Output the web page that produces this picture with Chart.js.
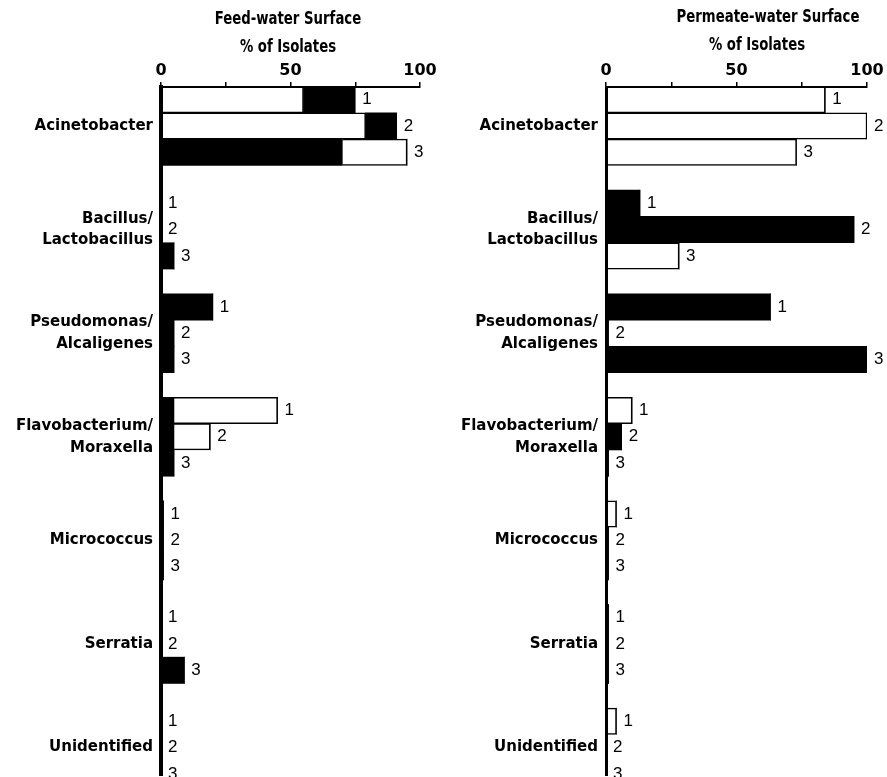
<!DOCTYPE html>
<html>
<head>
<meta charset="utf-8">
<script src="https://cdn.jsdelivr.net/npm/chart.js@4/dist/chart.umd.min.js"></script>
<style>
  body { margin: 0; background: #fff; }
  #wrap { position: relative; width: 887px; height: 777px; }
  .panel { position: absolute; top: 0; height: 777px; }
  .ttl { position: absolute; font-family: 'Liberation Sans Narrow', 'DejaVu Sans Condensed', sans-serif;
         font-weight: bold; font-size: 18px; color: #000; white-space: nowrap;
         transform: translateX(-50%) scaleX(0.82); }
</style>
</head>
<body>
<div id="wrap">
  <div class="panel" style="left:0;width:443px"><canvas id="feedCanvas"></canvas></div>
  <div class="panel" style="left:443px;width:444px"><canvas id="permCanvas"></canvas></div>
  <div class="ttl" style="left:288px;top:7px">Feed-water Surface</div>
  <div class="ttl" style="left:288px;top:35px">% of Isolates</div>
  <div class="ttl" style="left:768px;top:5px">Permeate-water Surface</div>
  <div class="ttl" style="left:757px;top:33px">% of Isolates</div>
</div>
<script>
// categories (top to bottom)
var categories = [
    'Acinetobacter',
    ['Bacillus/', 'Lactobacillus'],
    ['Pseudomonas/', 'Alcaligenes'],
    ['Flavobacterium/', 'Moraxella'],
    'Micrococcus',
    'Serratia',
    'Unidentified'
];
var barNames = ['1', '2', '3'];
var xTicks = [0, 50, 100];

// each bar = black part next to the axis + white part + black part at the end
// rows: bar 1, bar 2, bar 3; columns: categories
var feedDarkInner = [
    [0, 0, 20, 5, 1, 0, 0],
    [0, 0, 5, 5, 1, 0, 0],
    [70, 5, 5, 5, 1, 9, 0]
];
var feedLight = [
    [55, 0, 0, 40, 0, 0, 0],
    [79, 0, 0, 14, 0, 0, 0],
    [25, 0, 0, 0, 0, 0, 0]
];
var feedDarkOuter = [
    [20, 0, 0, 0, 0, 0, 0],
    [12, 0, 0, 0, 0, 0, 0],
    [0, 0, 0, 0, 0, 0, 0]
];

var permDarkInner = [
    [0, 13, 63, 0, 0, 1, 0],
    [0, 95, 0, 6, 1, 1, 0],
    [0, 0, 100, 1, 1, 1, 0]
];
var permLight = [
    [84, 0, 0, 10, 4, 0, 4],
    [100, 0, 1, 0, 0, 0, 0],
    [73, 28, 0, 0, 0, 0, 0]
];
var permDarkOuter = [
    [0, 0, 0, 0, 0, 0, 0],
    [0, 0, 0, 0, 0, 0, 0],
    [0, 0, 0, 0, 0, 0, 0]
];

var barLabels = {
    id: 'barLabels',
    afterDatasetsDraw: function(chart) {
        var ctx = chart.ctx;
        ctx.save();
        ctx.font = '17px "Liberation Sans", sans-serif';
        ctx.fillStyle = '#000';
        ctx.textAlign = 'left';
        ctx.textBaseline = 'middle';
        for (var s = 0; s < 3; s++) {
            var meta = chart.getDatasetMeta(s * 3 + 2);
            meta.data.forEach(function(el) {
                ctx.fillText(barNames[s], el.x + 7, el.y);
            });
        }
        ctx.restore();
    }
};

function makeChart(id, darkInner, light, darkOuter, yWidth, padRight, axisWidth) {
    var datasets = [];
    for (var s = 0; s < 3; s++) {
        var parts = [darkInner[s], light[s], darkOuter[s]];
        for (var p = 0; p < 3; p++) {
            var pts = [];
            for (var i = 0; i < categories.length; i++) {
                pts.push({ x: parts[p][i], y: i + 1 });
            }
            datasets.push({
                label: 'bar ' + barNames[s],
                stack: 's' + s,
                data: pts,
                backgroundColor: p == 1 ? '#fff' : '#000',
                borderColor: '#000',
                borderWidth: p == 1 ? 1.5 : 0,
                barThickness: 26.3
            });
        }
    }

    return new Chart(document.getElementById(id), {
        type: 'bar',
        data: { datasets: datasets },
        plugins: [barLabels],
        options: {
            indexAxis: 'y',
            responsive: true,
            maintainAspectRatio: false,
            animation: false,
            layout: { padding: { top: 0, right: padRight, bottom: 2, left: 0 } },
            plugins: { legend: { display: false }, tooltip: { enabled: false }, title: { display: false } },
            scales: {
                x: {
                    type: 'linear',
                    position: 'top',
                    stacked: true,
                    min: 0,
                    max: 100,
                    afterFit: function(scale) { scale.height = 87; },
                    afterBuildTicks: function(scale) {
                        scale.ticks = [0, 25, 50, 75, 100].map(function(v) { return { value: v }; });
                    },
                    ticks: {
                        padding: 2,
                        color: '#000',
                        font: { family: '"DejaVu Sans", sans-serif', weight: 'bold', size: 16 },
                        callback: function(v) { return xTicks.indexOf(v) >= 0 ? String(v) : ''; }
                    },
                    grid: { drawOnChartArea: false, drawTicks: true, tickLength: 5, color: '#000', lineWidth: 1.5 },
                    border: { color: '#000', width: 2, z: 1 }
                },
                y: {
                    type: 'linear',
                    stacked: true,
                    reverse: true,
                    offset: false,
                    min: 0.6236,
                    max: 7.2645,
                    afterFit: function(scale) {
                        scale.width = yWidth;
                        scale.paddingTop = 0;
                        scale.paddingBottom = 0;
                    },
                    afterBuildTicks: function(scale) {
                        scale.ticks = categories.map(function(c, i) { return { value: i + 1 }; });
                    },
                    ticks: {
                        autoSkip: false,
                        padding: 8,
                        color: '#000',
                        font: { family: '"DejaVu Sans", sans-serif', weight: 'bold', size: 15, lineHeight: 1.45 },
                        callback: function(v) { return categories[Math.round(v) - 1]; }
                    },
                    grid: { display: false, drawTicks: false, offset: false },
                    border: { color: '#000', width: axisWidth, z: 1 }
                }
            }
        }
    });
}

makeChart('feedCanvas', feedDarkInner, feedLight, feedDarkOuter, 161, 23, 4);
makeChart('permCanvas', permDarkInner, permLight, permDarkOuter, 163, 20, 3);
</script>
</body>
</html>
